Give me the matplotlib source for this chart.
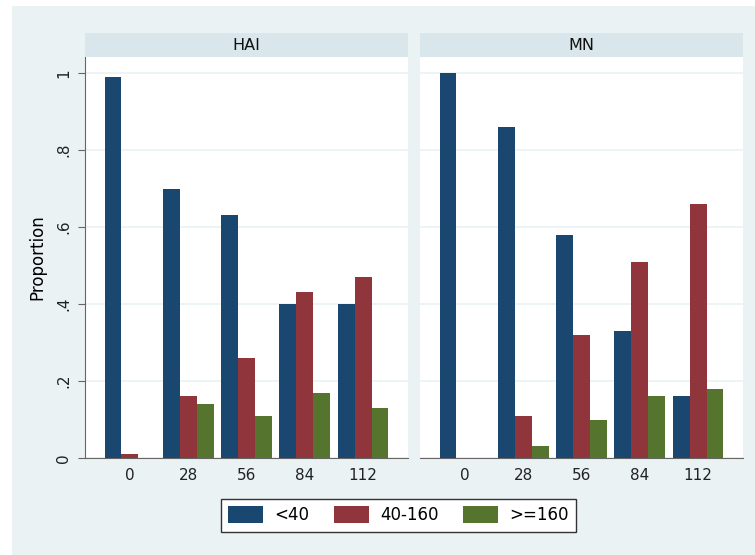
import numpy as np
import matplotlib.pyplot as plt
from matplotlib.patches import Rectangle, Patch

plt.rcParams['font.family'] = ['DejaVu Sans']

days = ['0', '28', '56', '84', '112']
groups = ['<40', '40-160', '>=160']
panels = ['HAI', 'MN']

hai_lt40 = [0.99, 0.70, 0.63, 0.40, 0.40]
hai_40_160 = [0.01, 0.16, 0.26, 0.43, 0.47]
hai_ge160 = [0.00, 0.14, 0.11, 0.17, 0.13]

mn_lt40 = [1.00, 0.86, 0.58, 0.33, 0.16]
mn_40_160 = [0.00, 0.11, 0.32, 0.51, 0.66]
mn_ge160 = [0.00, 0.03, 0.10, 0.16, 0.18]

yticks = [0, 0.2, 0.4, 0.6, 0.8, 1.0]
yticklabels = ['0', '.2', '.4', '.6', '.8', '1']

colors = ['#1a476f', '#90353b', '#55752f']
bg = '#eaf2f3'
strip = '#d9e6eb'

W, H = 755, 555
fig = plt.figure(figsize=(W / 100, H / 100), dpi=100)
fig.patch.set_facecolor('white')
fig.patches.append(Rectangle((12 / W, 0), 1, 1 - 6 / H, transform=fig.transFigure,
                             facecolor=bg, edgecolor='none', zorder=-10))

ax_w = 323 / W
ax_b = 1 - 458 / H
ax_h = (458 - 57) / H
strip_h = 24 / H
lefts = [85 / W, 420 / W]

data = {
    'HAI': [hai_lt40, hai_40_160, hai_ge160],
    'MN': [mn_lt40, mn_40_160, mn_ge160],
}

x = np.arange(len(days))
bw = 0.29
for i, name in enumerate(panels):
    ax = fig.add_axes([lefts[i], ax_b, ax_w, ax_h])
    ax.set_facecolor('white')
    for k, vals in enumerate(data[name]):
        ax.bar(x + (k - 1) * bw, vals, width=bw, color=colors[k],
               edgecolor='none', zorder=3)
    ax.set_xlim(-0.77, 4.77)
    ax.set_ylim(0, (458 - 57) / 385)
    ax.set_yticks(yticks)
    for y in yticks:
        ax.axhline(y, color=bg, lw=1.2, zorder=1)
    ax.set_xticks(x)
    ax.set_xticklabels(days, fontsize=11)
    ax.tick_params(axis='x', length=0, pad=7, colors='#222222')
    for side in ['top', 'right']:
        ax.spines[side].set_visible(False)
    ax.spines['bottom'].set_color('#666666')
    if i == 0:
        ax.spines['left'].set_color('#666666')
        ax.set_yticklabels(yticklabels, fontsize=11, rotation=90, va='center')
        ax.tick_params(axis='y', length=5, color='#666666', pad=5, labelcolor='#222222')
        ax.set_ylabel('Proportion', fontsize=12, labelpad=7)
    else:
        ax.spines['left'].set_visible(False)
        ax.tick_params(axis='y', length=0, labelleft=False)

    sax = fig.add_axes([lefts[i], ax_b + ax_h, ax_w, strip_h])
    sax.set_facecolor(strip)
    sax.set_xticks([])
    sax.set_yticks([])
    for s in sax.spines.values():
        s.set_visible(False)
    sax.text(0.5, 0.5, name, ha='center', va='center', fontsize=11.5, color='#111111',
             transform=sax.transAxes)

handles = [Patch(facecolor=c, edgecolor='none') for c in colors]
leg = fig.legend(handles, groups, loc='center', bbox_to_anchor=(398.5 / W, 1 - 515 / H),
                 ncol=3, fontsize=12, frameon=True, fancybox=False, framealpha=1,
                 handlelength=2.1, handleheight=1.15, columnspacing=1.5,
                 handletextpad=0.65, borderpad=0.45, borderaxespad=0)
leg.get_frame().set_edgecolor('#333333')
leg.get_frame().set_linewidth(1.0)

fig.savefig('out.png', dpi=100, facecolor=fig.get_facecolor())
